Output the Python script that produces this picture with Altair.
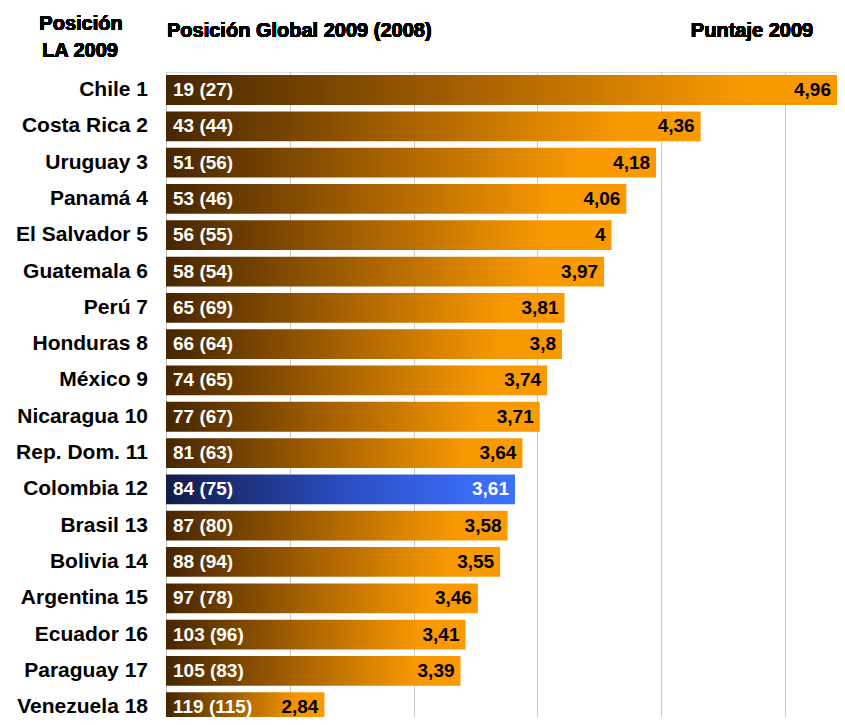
import altair as alt
import pandas as pd

countries = ["Chile", "Costa Rica", "Uruguay", "Panamá", "El Salvador", "Guatemala",
             "Perú", "Honduras", "México", "Nicaragua", "Rep. Dom.", "Colombia",
             "Brasil", "Bolivia", "Argentina", "Ecuador", "Paraguay", "Venezuela"]
la_rank = list(range(1, 19))
global_2009 = [19, 43, 51, 53, 56, 58, 65, 66, 74, 77, 81, 84, 87, 88, 97, 103, 105, 119]
global_2008 = [27, 44, 56, 46, 55, 54, 69, 64, 65, 67, 63, 75, 80, 94, 78, 96, 83, 115]
scores = [4.96, 4.36, 4.18, 4.06, 4.0, 3.97, 3.81, 3.8, 3.74, 3.71, 3.64, 3.61,
          3.58, 3.55, 3.46, 3.41, 3.39, 2.84]
highlight = "Colombia"

df = pd.DataFrame({
    "idx": list(range(len(countries))),
    "label": [f"{c} {r}" for c, r in zip(countries, la_rank)],
    "inner": [f"{a} ({b})" for a, b in zip(global_2009, global_2008)],
    "score": scores,
    "score_txt": [f"{s:g}".replace(".", ",") for s in scores],
    "hl": [c == highlight for c in countries],
})

FONT = "Liberation Sans"
X0 = 2.2
XMAX = 4.911
x_scale = alt.Scale(domain=[X0, XMAX], nice=False, zero=False)
y_scale = alt.Scale(domain=[-0.496, 17.27], reverse=True, nice=False, zero=False)

base = alt.Chart(df).transform_calculate(
    y1="datum.idx - 0.41", y2="datum.idx + 0.41", x0=str(X0),
    sx=f"min(datum.score, {XMAX})"
)

orange = alt.Gradient(
    gradient="linear", x1=0, x2=1, y1=0, y2=0,
    stops=[alt.GradientStop(color="#462600", offset=0),
           alt.GradientStop(color="#a86200", offset=0.45),
           alt.GradientStop(color="#f99900", offset=0.85),
           alt.GradientStop(color="#fa9a00", offset=1)])
blue = alt.Gradient(
    gradient="linear", x1=0, x2=1, y1=0, y2=0,
    stops=[alt.GradientStop(color="#141c48", offset=0),
           alt.GradientStop(color="#2a4cc0", offset=0.5),
           alt.GradientStop(color="#3a6ef8", offset=0.9),
           alt.GradientStop(color="#3b70fa", offset=1)])

xax = alt.Axis(values=[2.2, 2.7, 3.2, 3.7, 4.2, 4.7], labels=False, ticks=False,
               domain=False, grid=True, gridColor="#c8c8c8", gridWidth=1, title=None)

bars_o = base.transform_filter("!datum.hl").mark_bar(color=orange, clip=True).encode(
    x=alt.X("x0:Q", scale=x_scale, axis=xax),
    x2=alt.X2("score:Q"),
    y=alt.Y("y1:Q", scale=y_scale, axis=None),
    y2="y2:Q",
)
bars_b = base.transform_filter("datum.hl").mark_bar(color=blue, clip=True).encode(
    x=alt.X("x0:Q", scale=x_scale),
    x2=alt.X2("score:Q"),
    y=alt.Y("y1:Q", scale=y_scale),
    y2="y2:Q",
)

labels = base.mark_text(align="right", baseline="middle", font=FONT, fontSize=21,
                        fontWeight="bold", color="#000000").encode(
    x=alt.value(-18),
    y=alt.Y("idx:Q", scale=y_scale),
    text="label:N",
)
inner = base.mark_text(align="left", baseline="middle", font=FONT, fontSize=19,
                       fontWeight="bold", color="#ffffff").encode(
    x=alt.value(7),
    y=alt.Y("idx:Q", scale=y_scale),
    text="inner:N",
)
vals = base.mark_text(align="right", baseline="middle", font=FONT, fontSize=19,
                      fontWeight="bold", dx=-6).encode(
    x=alt.X("sx:Q", scale=x_scale),
    y=alt.Y("idx:Q", scale=y_scale),
    text="score_txt:N",
    color=alt.condition("datum.hl", alt.value("#ffffff"), alt.value("#000000")),
)

hdr_style = dict(font=FONT, fontSize=20, fontWeight="bold", color="#000000", baseline="middle")
h1 = alt.Chart(df).mark_text(text="Posición", align="center", **hdr_style).encode(
    x=alt.value(-85), y=alt.value(-48))
h2 = alt.Chart(df).mark_text(text="LA 2009", align="center", **hdr_style).encode(
    x=alt.value(-86), y=alt.value(-21))
h3 = alt.Chart(df).mark_text(text="Posición Global 2009 (2008)", align="left", **hdr_style).encode(
    x=alt.value(1), y=alt.value(-41))
h4 = alt.Chart(df).mark_text(text="Puntaje 2009", align="center", **hdr_style).encode(
    x=alt.value(586), y=alt.value(-41))

chart = alt.layer(bars_o, bars_b, labels, inner, vals, h1, h2, h3, h4).properties(
    width=671, height=645,
    padding={"left": 158, "top": 64, "right": 0, "bottom": 0},
    autosize=alt.AutoSizeParams(type="none"),
).configure_view(stroke=None).configure(background="#ffffff")

chart.save("out.html", embed_options={"renderer": "svg", "actions": False})
